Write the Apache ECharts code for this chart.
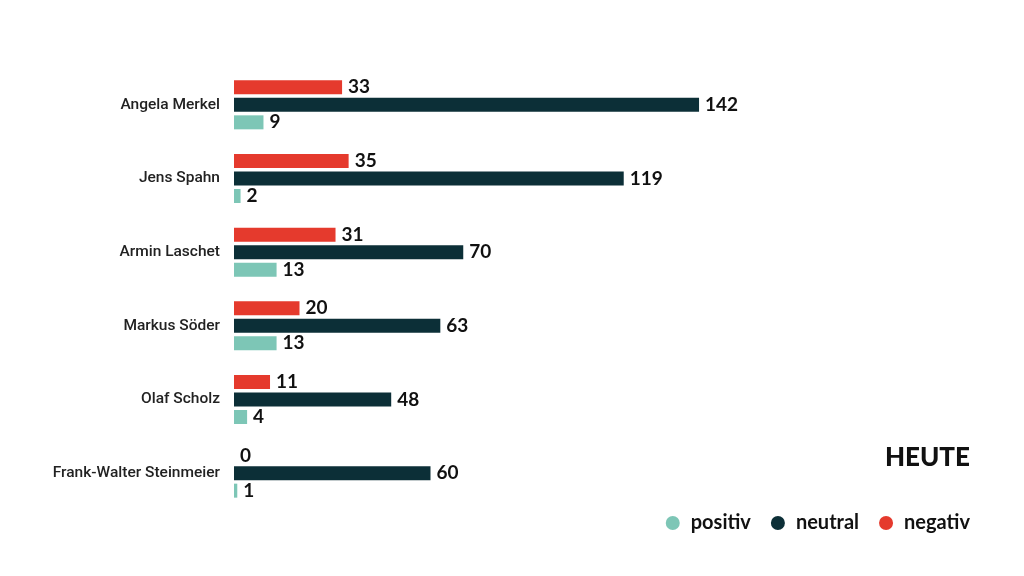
<!DOCTYPE html>
<html><head><meta charset="utf-8">
<script src="https://cdn.jsdelivr.net/npm/echarts@6/dist/echarts.min.js"></script>
<style>html,body{margin:0;padding:0;background:#fff}#c{width:1024px;height:576px}</style>
</head><body><div id="c"></div>
<script>
const categories = ["Angela Merkel","Jens Spahn","Armin Laschet","Markus Söder","Olaf Scholz","Frank-Walter Steinmeier"];
const negativ = [33,35,31,20,11,0];
const neutral = [142,119,70,63,48,60];
const positiv = [9,2,13,13,4,1];
const colors = {positiv:"#7dc6b6", neutral:"#0c2f37", negativ:"#e53a2d"};

const chart = echarts.init(document.getElementById('c'));
const lbl = {show:true, position:'right', distance:6, color:'#111', fontFamily:'Lato', fontWeight:'bold', fontSize:19};
function mk(name, data){
  return {name, type:'bar', data, barWidth:14, barGap:'25%', barCategoryGap:'33%',
    itemStyle:{color:colors[name]}, label:lbl, animation:false};
}
chart.setOption({
  animation:false,
  title:{text:'HEUTE', right:49, top:440, textStyle:{fontFamily:'Lato', fontWeight:900, fontSize:26, color:'#111'}},
  legend:{data:['positiv','neutral','negativ'], right:49, top:508, icon:'circle', itemWidth:14, itemHeight:14, itemGap:20,
    textStyle:{fontFamily:'Lato', fontWeight:'bold', fontSize:20, color:'#111', padding:[0,0,0,6]}},
  grid:{left:234, right:135, top:68, bottom:66},
  xAxis:{type:'value', min:0, max:200, show:false},
  yAxis:{type:'category', data:categories, inverse:true, axisLine:{show:false}, axisTick:{show:false},
    axisLabel:{margin:14, fontFamily:'Roboto', fontWeight:500, fontSize:15.5, color:'#222'}},
  series:[mk('negativ',negativ), mk('neutral',neutral), mk('positiv',positiv)]
});
</script></body></html>
